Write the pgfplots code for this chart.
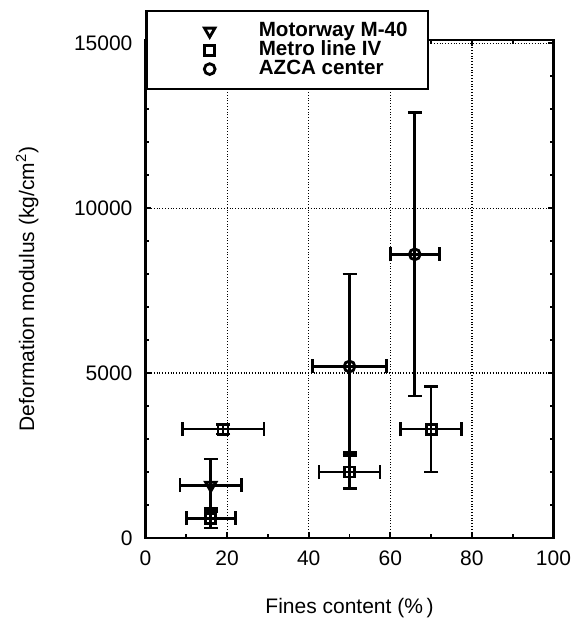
\documentclass[border=0pt]{standalone}
\usepackage{fontspec}
\setmainfont{Liberation Sans}
\usepackage{pgfplots}
\pgfplotsset{compat=1.18}
\usepackage{pgfplotstable}

% x  y  ex  eyp  eym
\pgfplotstableread{
x y ex eyp eym
16 1600 7.5 800 800
}\motorway
\pgfplotstableread{
x y ex eyp eym
16 600 6 300 300
19 3300 10 150 150
50 2000 7.5 500 500
70 3300 7.5 1300 1300
}\metro
\pgfplotstableread{
x y ex eyp eym
50 5200 9 2800 2600
66 8600 6 4300 4300
}\azca

\begin{document}
\begin{tikzpicture}
\begin{axis}[
    at={(0,0)}, anchor=south west,
    scale only axis,
    width=204pt, height=249pt,
    xmin=0, xmax=100, ymin=0, ymax=15100,
    xtick={0,20,...,100}, minor x tick num=1,
    ytick={0,5000,10000,15000}, minor y tick num=4,
    scaled y ticks=false,
    tick align=inside, tick pos=both,
    major tick length=3pt, minor tick length=2pt,
    every tick/.style={black, line width=0.9pt},
    axis line style={line width=1.1pt},
    grid=major,
    major grid style={densely dotted, black, line width=0.6pt},
    /pgf/number format/assume math mode=true,
    /pgf/number format/set thousands separator={},
    tick label style={font=\fontsize{10.5}{12}\selectfont},
    xticklabel style={yshift=-3pt},
    yticklabel style={xshift=-3pt},
    label style={font=\fontsize{10.5}{12}\selectfont},
    xlabel={Fines content (\%\,)},
    ylabel={Deformation modulus (kg/cm\textsuperscript{2})},
    xlabel style={at={(axis description cs:0.5,-0.14)}, anchor=center},
    ylabel style={at={(axis description cs:-0.29,0.5)}, anchor=center},
    legend style={at={(axis description cs:0,1.06)}, anchor=north west,
        draw=black, line width=1.1pt, fill=white,
        font=\bfseries\fontsize{10.3}{11}\selectfont,
        nodes={text height=6.8pt, text depth=1.2pt, inner ysep=0.75pt},
        inner xsep=8pt, inner ysep=5.2pt, row sep=0pt},
    legend cell align=left,
    legend image code/.code={\path (0pt,0pt) (45pt,0pt);
        \draw plot coordinates {(23pt,0pt)};},
    error bars/error bar style={line width=1.3pt, black},
    error bars/error mark options={rotate=90, black, mark size=3.5pt, line width=1.3pt},
]
\addplot[only marks, black, mark=triangle, mark size=3pt,
    mark options={rotate=180, line width=1.4pt},
    error bars/.cd, x dir=both, x explicit, y dir=both, y explicit]
    table[x=x, y=y, x error=ex, y error plus=eyp, y error minus=eym] {\motorway};
\addlegendentry{Motorway M-40}
\addplot[only marks, black, mark=square, mark size=2.5pt,
    mark options={line width=1.4pt},
    error bars/.cd, x dir=both, x explicit, y dir=both, y explicit]
    table[x=x, y=y, x error=ex, y error plus=eyp, y error minus=eym] {\metro};
\addlegendentry{Metro line IV}
\addplot[only marks, black, mark=o, mark size=2.7pt,
    mark options={line width=1.4pt},
    error bars/.cd, x dir=both, x explicit, y dir=both, y explicit]
    table[x=x, y=y, x error=ex, y error plus=eyp, y error minus=eym] {\azca};
\addlegendentry{AZCA center}
\end{axis}
\path (-72.75pt,-43.5pt) rectangle (217.25pt,269pt);
\end{tikzpicture}
\end{document}
